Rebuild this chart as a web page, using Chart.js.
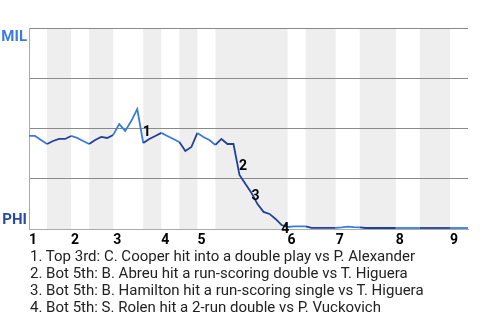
<!DOCTYPE html>
<html lang="en">
<head>
<meta charset="UTF-8" />
<title>Win Probability - MIL @ PHI</title>
<style>
  body { margin: 0; background: #fff; }
  .chart-box { position: relative; width: 480px; height: 320px; }
  .plays { position: absolute; left: 0; top: 248px; margin: 0; padding: 0 0 0 30px; list-style: none;
           font-family: Roboto, sans-serif; font-size: 15px; line-height: 17px; color: #222; }
</style>
</head>
<body>

<div class="chart-box">
  <canvas id="wpChart" width="480" height="320"></canvas>
  <ul class="plays">
    <li>1. Top 3rd: C. Cooper hit into a double play vs P. Alexander</li>
    <li>2. Bot 5th: B. Abreu hit a run-scoring double vs T. Higuera</li>
    <li>3. Bot 5th: B. Hamilton hit a run-scoring single vs T. Higuera</li>
    <li>4. Bot 5th: S. Rolen hit a 2-run double vs P. Vuckovich</li>
  </ul>
</div>

<script src="https://cdn.jsdelivr.net/npm/chart.js"></script>
<script>
  // MIL win probability (%) after each plate appearance
  const winProb = [
    46.3, 46.3, 44.3, 42.3, 43.8, 44.8, 44.8, 46.3, 45.3, 43.8,
    42.3, 44.3, 45.8, 45.3, 46.8, 52.2, 48.8, 53.7, 59.7, 42.8,
    44.8, 46.3, 47.8, 46.3, 44.8, 43.3, 38.8, 40.8, 47.8, 45.8,
    44.3, 41.8, 44.8, 42.3, 42.3, 26.9, 22.4, 17.9, 12.4, 8.5,
    7.5, 5.0, 2.0, 1.0, 1.3, 1.3, 1.3, 0.6, 0.6, 0.6,
    0.6, 0.6, 0.8, 1.2, 0.9, 0.8, 0.5, 0.5, 0.5, 0.5,
    0.5, 0.5, 0.5, 0.5, 0.5, 0.5, 0.5, 0.5, 0.5, 0.5,
    0.5, 0.5, 0.5, 0.5
  ];
  // plate appearance count where each half inning ends (top 1st, bot 1st, ...)
  const halfInningEnds = [0, 3, 7, 10, 14, 19, 22, 25, 28, 31, 43, 46, 51, 55, 61, 65, 70, 73];
  const innings = ['1', '2', '3', '4', '5', '6', '7', '8', '9'];
  const inningStarts = halfInningEnds.filter((v, i) => i % 2 === 0 && i < 17);
  const keyPlays = [19, 35, 38, 43];
  const keyLabels = ['1', '2', '3', '4'];

  const topColor = '#3a7be0';
  const botColor = '#20409a';

  function halfOf(x) {
    for (let h = 0; h < halfInningEnds.length - 1; h++) {
      if (x >= halfInningEnds[h] && x < halfInningEnds[h + 1]) return h;
    }
    return halfInningEnds.length - 2;
  }

  const bandPlugin = {
    id: 'bands',
    beforeDraw(chart) {
      const {ctx, chartArea, scales: {x}} = chart;
      ctx.save();
      ctx.fillStyle = '#eeeeee';
      for (let h = 1; h < halfInningEnds.length - 1; h += 2) {
        const x0 = x.getPixelForValue(halfInningEnds[h]);
        const x1 = x.getPixelForValue(halfInningEnds[h + 1]);
        ctx.fillRect(x0, chartArea.top, x1 - x0, chartArea.bottom - chartArea.top);
      }
      ctx.restore();
    }
  };

  const offsets = [[3.5, -10.5], [3.6, -8.5], [-2, -7.5], [-2.4, 3]];
  const playLabelPlugin = {
    id: 'playLabels',
    afterDatasetsDraw(chart) {
      const {ctx} = chart;
      const pts = chart.getDatasetMeta(0).data;
      ctx.save();
      ctx.font = 'bold 14px Roboto';
      ctx.fillStyle = '#000';
      ctx.textAlign = 'center';
      ctx.textBaseline = 'middle';
      keyPlays.forEach((idx, i) => {
        const p = pts[idx];
        ctx.fillText(keyLabels[i], p.x + offsets[i][0], p.y + offsets[i][1]);
      });
      ctx.restore();
    }
  };

  new Chart(document.getElementById('wpChart'), {
    type: 'line',
    data: {
      datasets: [{
        data: winProb.map((v, i) => ({x: i, y: v})),
        borderWidth: 1.8,
        pointRadius: 0,
        tension: 0,
        segment: {
          borderColor: c => halfOf(c.p0.parsed.x) % 2 === 0 ? topColor : botColor
        }
      }]
    },
    options: {
      responsive: false,
      animation: false,
      devicePixelRatio: 1,
      layout: { padding: { top: 28, right: 12, left: 0, bottom: 0 } },
      plugins: { legend: { display: false }, tooltip: { enabled: false } },
      scales: {
        x: {
          type: 'linear', min: 0, max: 73,
          grid: { display: false },
          border: { color: '#aaaaaa', width: 1 },
          afterBuildTicks: s => { s.ticks = inningStarts.map(v => ({value: v})); },
          afterFit: s => { s.height = 91; },
          ticks: {
            align: 'start', autoSkip: false, maxRotation: 0, padding: -5,
            color: '#000', font: { family: 'Roboto', size: 14, weight: 'bold' },
            callback: v => innings[inningStarts.indexOf(v)]
          }
        },
        y: {
          min: 0, max: 100,
          grid: { color: '#8a8a8a', drawTicks: false },
          border: { color: '#aaaaaa', width: 1 },
          afterBuildTicks: s => { s.ticks = [0, 25, 50, 75, 100].map(v => ({value: v})); },
          afterFit: s => { s.width = 29; },
          ticks: {
            padding: 2,
            font: { family: 'Roboto', size: 15, weight: 'bold' },
            color: c => c.tick && c.tick.value === 100 ? '#3b7be0' : '#2b4a9e',
            callback: v => v === 100 ? ['', 'MIL'] : v === 0 ? ['PHI', ''] : ''
          }
        }
      }
    },
    plugins: [bandPlugin, playLabelPlugin]
  });
</script>
</body>
</html>
